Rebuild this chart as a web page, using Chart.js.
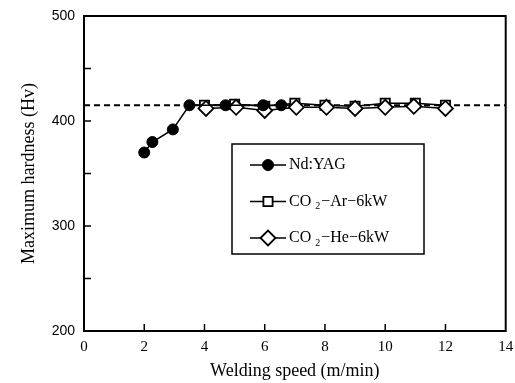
<!DOCTYPE html>
<html>
<head>
<meta charset="utf-8">
<script src="https://cdn.jsdelivr.net/npm/chart.js@4"></script>
<style>
  html, body { margin: 0; padding: 0; background: #fff; }
  #wrap { width: 515px; height: 383px; }
</style>
</head>
<body>
<div id="wrap"><canvas id="c" width="515" height="383"></canvas></div>
<script>
// data
const speedYag = [2, 2.27, 2.95, 3.5, 4.7, 5.95, 6.55];
const hardYag = [370, 380, 392, 415, 415, 415, 415];
const speedAr = [4, 5, 6, 7, 8, 9, 10, 11, 12];
const hardAr = [415, 416, 414, 417, 415, 414, 417, 417, 415];
const speedHe = [4.05, 5.05, 6, 7.05, 8.05, 9, 10, 10.95, 12];
const hardHe = [412, 413, 410, 413, 413, 412, 413, 414, 412];
const refSpeed = [0, 14];
const refHard = [415, 415];

const serif = '"Liberation Serif", "DejaVu Serif", serif';
const sans = '"Liberation Sans", Arial, sans-serif';

const toPts = (xs, ys) => xs.map((x, i) => ({ x: x, y: ys[i] }));

// legend entries: label parts [text, subscript?]
const legendItems = [
  { ds: 0, parts: [['Nd:YAG', false]] },
  { ds: 2, parts: [['CO ', false], ['2', true], ['\u2212Ar\u22126kW', false]] },
  { ds: 1, parts: [['CO ', false], ['2', true], ['\u2212He\u2212', false], ['6kW', false]] },
];

// box frame, inward ticks and the legend box
const framePlugin = {
  id: 'frame',
  afterDraw(chart) {
    const ctx = chart.ctx;
    const a = chart.chartArea;
    const xs = chart.scales.x, ys = chart.scales.y;
    ctx.save();
    ctx.strokeStyle = '#000';
    ctx.lineWidth = 2;
    ctx.strokeRect(a.left, a.top, a.right - a.left, a.bottom - a.top);
    ctx.lineWidth = 1.5;
    ctx.beginPath();
    xs.ticks.forEach(t => {
      if (t.value <= xs.min || t.value >= xs.max) return;
      const px = xs.getPixelForValue(t.value);
      ctx.moveTo(px, a.bottom);
      ctx.lineTo(px, a.bottom - 7);
    });
    ys.ticks.forEach(t => {
      if (t.value <= ys.min || t.value >= ys.max) return;
      const py = ys.getPixelForValue(t.value);
      ctx.moveTo(a.left, py);
      ctx.lineTo(a.left + 7, py);
    });
    ctx.stroke();

    // legend
    const lx = 232, ly = 144, lw = 192, lh = 110;
    ctx.fillStyle = '#fff';
    ctx.fillRect(lx, ly, lw, lh);
    ctx.lineWidth = 1.5;
    ctx.strokeRect(lx, ly, lw, lh);
    legendItems.forEach((item, i) => {
      const ds = chart.data.datasets[item.ds];
      const cy = ly + 21 + i * 36.5;
      const mx = lx + 36;
      ctx.strokeStyle = '#000';
      ctx.lineWidth = 1.5;
      ctx.beginPath();
      ctx.moveTo(lx + 18, cy);
      ctx.lineTo(lx + 54, cy);
      ctx.stroke();
      ctx.fillStyle = ds.pointBackgroundColor;
      ctx.strokeStyle = '#000';
      ctx.lineWidth = ds.pointBorderWidth;
      Chart.helpers.drawPoint(ctx, {
        pointStyle: ds.pointStyle,
        radius: ds.pointRadius,
        borderWidth: ds.pointBorderWidth,
        rotation: 0
      }, mx, cy);
      let tx = lx + 57;
      ctx.fillStyle = '#000';
      ctx.textBaseline = 'middle';
      item.parts.forEach(([txt, sub]) => {
        ctx.font = (sub ? '10px ' : '16px ') + serif;
        ctx.fillText(txt, tx, sub ? cy + 5 : cy);
        tx += ctx.measureText(txt).width + (sub ? 1 : 0);
      });
    });
    ctx.restore();
  }
};

new Chart(document.getElementById('c'), {
  type: 'line',
  data: {
    datasets: [
      {
        label: 'Nd:YAG',
        data: toPts(speedYag, hardYag),
        borderColor: '#000',
        borderWidth: 1.5,
        pointStyle: 'circle',
        pointRadius: 5.5,
        pointBorderWidth: 1,
        pointBackgroundColor: '#000',
        pointBorderColor: '#000',
        order: 0
      },
      {
        label: 'CO2-He-6kW',
        data: toPts(speedHe, hardHe),
        borderColor: '#000',
        borderWidth: 1.5,
        pointStyle: 'rectRot',
        pointRadius: 7.5,
        pointBorderWidth: 1.8,
        pointBackgroundColor: '#fff',
        pointBorderColor: '#000',
        order: 1
      },
      {
        label: 'CO2-Ar-6kW',
        data: toPts(speedAr, hardAr),
        borderColor: '#000',
        borderWidth: 1.5,
        pointStyle: 'rect',
        pointRadius: 6.5,
        pointBorderWidth: 1.8,
        pointBackgroundColor: '#fff',
        pointBorderColor: '#000',
        order: 2
      },
      {
        label: 'ref',
        data: toPts(refSpeed, refHard),
        borderColor: '#000',
        borderWidth: 2,
        borderDash: [6, 4],
        pointRadius: 0,
        order: 3
      }
    ]
  },
  options: {
    responsive: false,
    animation: false,
    layout: { padding: { left: 18, right: 8, top: 16, bottom: 0 } },
    plugins: {
      legend: { display: false },
      tooltip: { enabled: false }
    },
    scales: {
      x: {
        type: 'linear',
        min: 0,
        max: 14,
        afterFit: (s) => { s.height = 52; s.paddingLeft = 0; s.paddingRight = 0; },
        grid: { display: false, drawTicks: false },
        border: { display: false },
        ticks: {
          stepSize: 2,
          color: '#000',
          padding: 7,
          font: { family: serif, size: 15 }
        },
        title: {
          display: true,
          text: 'Welding speed (m/min)',
          color: '#000',
          font: { family: serif, size: 18 },
          padding: { top: 0, bottom: 1 }
        }
      },
      y: {
        min: 200,
        max: 500,
        afterFit: (s) => { s.width = 66; s.paddingTop = 0; s.paddingBottom = 0; },
        grid: { display: false, drawTicks: false },
        border: { display: false },
        ticks: {
          stepSize: 50,
          color: '#000',
          padding: 9,
          font: { family: sans, size: 14 },
          callback: (v) => (v % 100 === 0 ? v : '')
        },
        title: {
          display: true,
          text: 'Maximum hardness (Hv)',
          color: '#000',
          font: { family: serif, size: 18 },
          padding: { top: 0, bottom: 4 }
        }
      }
    }
  },
  plugins: [framePlugin]
});
</script>
</body>
</html>
